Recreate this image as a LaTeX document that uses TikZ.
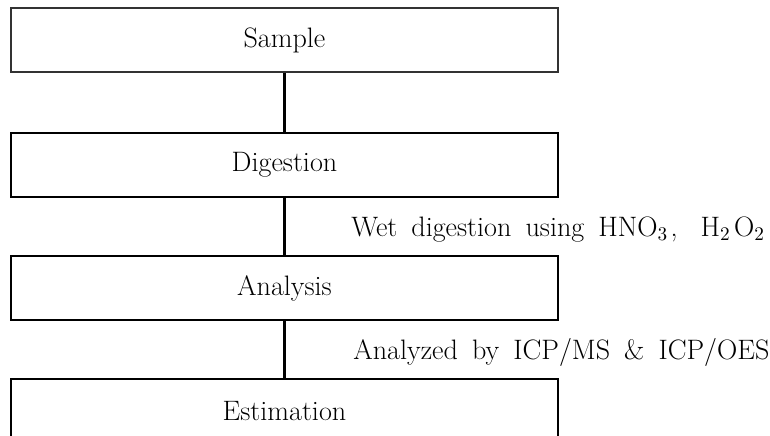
\documentclass[tikz,border=0pt]{standalone}
\usepackage{tikz}
\usetikzlibrary{positioning}
\usetikzlibrary{calc}
\colorlet{thinedge}{black!80}
\newcommand{\widespaces}{\spaceskip=8pt plus 1pt\relax}
\tikzset{
  stage/.style={draw, line width=0.45mm, minimum width=109.4mm, minimum height=12.8mm, inner sep=0pt, align=center},
  note/.style={anchor=base west, inner sep=0pt, execute at begin node=\widespaces},
  link/.style={line width=0.45mm}
}

\begin{document}
\begin{tikzpicture}[font=\fontsize{16}{19}\selectfont]
            \useasboundingbox (-56.9mm,8mm) rectangle (97.1mm,-79.2mm);
            \node [stage, draw=thinedge, line width=0.25mm] (sample) at (0,0) {Sample};
            \node [stage, below=11.8mm of sample] (digestion) {Digestion};
            \node [stage, below=11.4mm of digestion] (analysis) {Analysis};
            \node [stage, below=11.4mm of analysis] (estimation) {Estimation};

            \draw [link] (sample) -- (digestion);
            \draw [link] (digestion) -- (analysis);
            \draw [link] (analysis) -- (estimation);

            % label text spacing widened to match the source
            \node [note] (wet) at ($(digestion.south)!0.5!(analysis.north)+(13.3mm,-2mm)$)
                {Wet digestion using HNO$_3$\kern1.5pt,\kern5pt{} H$_2$\kern2pt O$_2$};
            \node [note] (icp) at ($(analysis.south)!0.5!(estimation.north)+(13.7mm,-1.9mm)$)
                {Analyzed by ICP/MS \& ICP/OES};
        \end{tikzpicture}
\end{document}
